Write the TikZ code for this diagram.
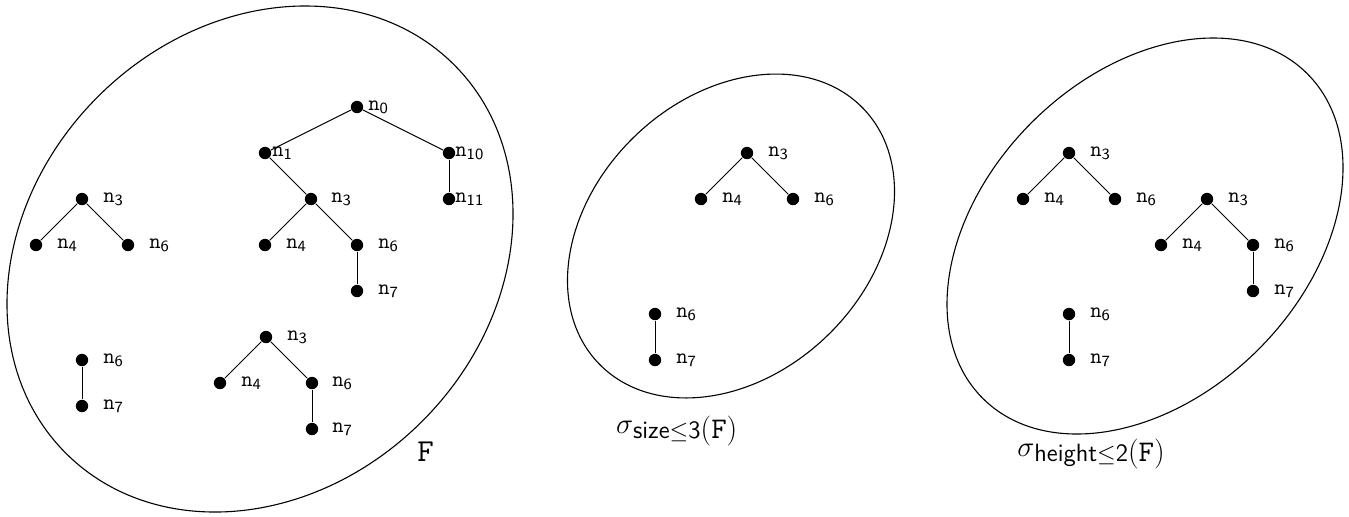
\documentclass[tikz,border=0pt]{standalone}
\usetikzlibrary{positioning}
\tikzset{
  dot/.style={circle,fill=black,inner sep=0pt,minimum size=6.2pt},
  lbl/.style={anchor=west,inner sep=0pt,font=\fontsize{11}{13}\selectfont},
  edge/.style={line width=0.5pt},
  setline/.style={line width=0.55pt},
  big/.style={inner sep=0pt}
}
\newcommand{\dotlab}[4]{%
  \node[dot] (#1) at (#2) {};
  \node[lbl] (#1l) at ([xshift=#4]#1.center) {\texttt{n}\raisebox{-1.6pt}{\fontsize{7.8}{9}\sffamily #3}};}
\newcommand{\selabel}[2]{%
  {\fontsize{14}{16}\selectfont$\sigma$}\raisebox{-2.4pt}{\fontsize{12.5}{14}\selectfont\sffamily #1$\leq$#2}\raisebox{-2.4pt}{\fontsize{15}{17}\selectfont(\texttt{F})}}
\begin{document}
\begin{tikzpicture}[x=0.5pt,y=-0.5pt]
\useasboundingbox (0,0) rectangle (1349,516);
% ellipses
\coordinate (c1) at (260,259);
\coordinate (c2) at (731,236);
\coordinate (c3) at (1145,236);
\draw[setline,rotate around={45:(c1)}] (c1) ellipse [x radius=137.3pt, y radius=114.7pt];
\draw[setline,rotate around={44:(c2)}] (c2) ellipse [x radius=91.85pt, y radius=69.3pt];
\draw[setline,rotate around={45:(c3)}] (c3) ellipse [x radius=114.75pt, y radius=80.2pt];
% ---- set F
% big tree
\dotlab{a0}{357,107}{0}{5.5pt}
\dotlab{a1}{265,153}{1}{3.5pt}
\dotlab{a10}{449,153}{10}{3pt}
\dotlab{a11}{449,199}{11}{3pt}
\dotlab{a3}{311,199}{3}{10pt}
\dotlab{a4}{265,245}{4}{10.5pt}
\dotlab{a6}{357,245}{6}{10.5pt}
\dotlab{a7}{357,291}{7}{10.5pt}
\draw[edge] (a0) -- (a1);
\draw[edge] (a0) -- (a10);
\draw[edge] (a10) -- (a11);
\draw[edge] (a1) -- (a3);
\draw[edge] (a3) -- (a4);
\draw[edge] (a3) -- (a6);
\draw[edge] (a6) -- (a7);
% left tree
\dotlab{b3}{82,199}{3}{10.5pt}
\dotlab{b4}{36,245}{4}{10.5pt}
\dotlab{b6}{128,245}{6}{10.5pt}
\draw[edge] (b3) -- (b4);
\draw[edge] (b3) -- (b6);
% left chain
\dotlab{c6}{82,360}{6}{10.5pt}
\dotlab{c7}{82,406}{7}{10.5pt}
\draw[edge] (c6) -- (c7);
% bottom tree
\dotlab{d3}{266,337}{3}{10.5pt}
\dotlab{d4}{220,383}{4}{10.5pt}
\dotlab{d6}{312,383}{6}{10pt}
\dotlab{d7}{312,429}{7}{10pt}
\draw[edge] (d3) -- (d4);
\draw[edge] (d3) -- (d6);
\draw[edge] (d6) -- (d7);
\node[big,font=\fontsize{16}{18}\selectfont] (F) at (425.5,451.5) {\texttt{F}};
% ---- set size<=3
\dotlab{e3}{747,153}{3}{10.5pt}
\dotlab{e4}{701,199}{4}{10.5pt}
\dotlab{e6}{793,199}{6}{10.5pt}
\draw[edge] (e3) -- (e4);
\draw[edge] (e3) -- (e6);
\dotlab{f6}{655,314}{6}{10.5pt}
\dotlab{f7}{655,360}{7}{10.5pt}
\draw[edge] (f6) -- (f7);
\node[big] (S1) at (676.7,431) {\selabel{size}{3}};
% ---- set height<=2
\dotlab{g3}{1069,153}{3}{10.5pt}
\dotlab{g4}{1023,199}{4}{10.5pt}
\dotlab{g6}{1115,199}{6}{10.5pt}
\draw[edge] (g3) -- (g4);
\draw[edge] (g3) -- (g6);
\dotlab{h3}{1207,199}{3}{10.5pt}
\dotlab{h4}{1161,245}{4}{10.5pt}
\dotlab{h6}{1253,245}{6}{10.5pt}
\dotlab{h7}{1253,291}{7}{10.5pt}
\draw[edge] (h3) -- (h4);
\draw[edge] (h3) -- (h6);
\draw[edge] (h6) -- (h7);
\dotlab{i6}{1069,314}{6}{10.5pt}
\dotlab{i7}{1069,360}{7}{10.5pt}
\draw[edge] (i6) -- (i7);
\node[big] (S2) at (1091,454) {\selabel{height}{2}};
\end{tikzpicture}
\end{document}
